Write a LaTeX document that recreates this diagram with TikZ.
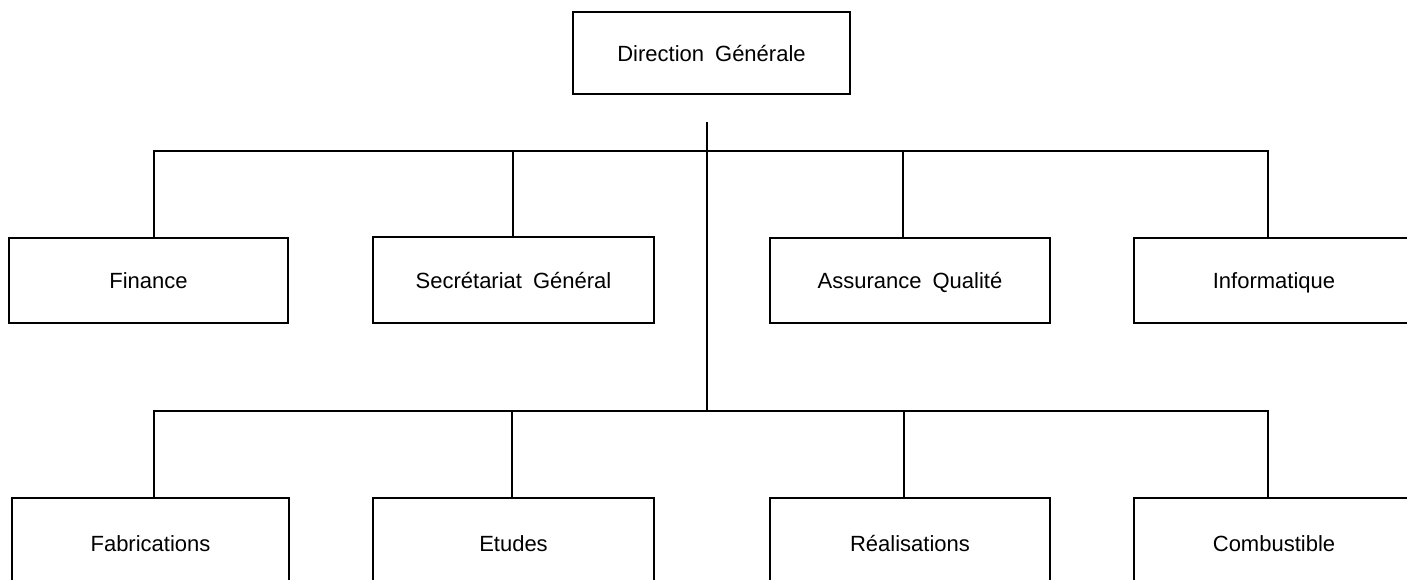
\documentclass[tikz,border=0pt]{standalone}
\usepackage{fontspec}
\setmainfont{Liberation Sans}
\newcommand{\wsp}{\hspace{0.5em}}
\begin{document}
\begin{tikzpicture}[x=1pt,y=-1pt,
  unit/.style={draw, line width=1.6pt, inner sep=0pt, outer sep=0pt, anchor=north west,
    text height=16pt, text depth=0pt,
    font=\fontsize{22}{26}\selectfont},
  link/.style={line width=1.6pt}]
\useasboundingbox (0,0) rectangle (1407,579);
\fill[white] (0,0) rectangle (1407,579);
\clip (0,0) rectangle (1407,579);
\node[unit, minimum width=277pt, minimum height=82pt] (dg) at (573,12) {Direction\wsp Générale};
\node[unit, minimum width=279pt, minimum height=85pt] (fin) at (9,238) {Finance};
\node[unit, minimum width=281pt, minimum height=86pt] (sec) at (373,237) {Secrétariat\wsp Général};
\node[unit, minimum width=280pt, minimum height=85pt] (aq) at (770,238) {Assurance\wsp Qualité};
\node[unit, minimum width=280pt, minimum height=85pt] (inf) at (1134,238) {Informatique};
\node[unit, minimum width=277pt, minimum height=90pt] (fab) at (12,498) {Fabrications};
\node[unit, minimum width=281pt, minimum height=90pt] (etu) at (373,498) {Etudes};
\node[unit, minimum width=280pt, minimum height=90pt] (rea) at (770,498) {Réalisations};
\node[unit, minimum width=280pt, minimum height=90pt] (com) at (1134,498) {Combustible};
\coordinate (trunktop) at (707,122);
\coordinate (bus1) at (707,151);
\coordinate (bus2) at (707,411);
\draw[link] (trunktop) -- (bus2);
\draw[link] ([xshift=5.5pt]fin.north) |- (bus1);
\draw[link] ([xshift=-0.5pt]sec.north) -- ([xshift=-0.5pt]sec.north |- bus1);
\draw[link] ([xshift=-7pt]aq.north) -- ([xshift=-7pt]aq.north |- bus1);
\draw[link] ([xshift=-6pt]inf.north) |- (bus1);
\draw[link] ([xshift=3.5pt]fab.north) |- (bus2);
\draw[link] ([xshift=-1.5pt]etu.north) -- ([xshift=-1.5pt]etu.north |- bus2);
\draw[link] ([xshift=-6pt]rea.north) -- ([xshift=-6pt]rea.north |- bus2);
\draw[link] ([xshift=-6pt]com.north) |- (bus2);
\end{tikzpicture}
\end{document}
